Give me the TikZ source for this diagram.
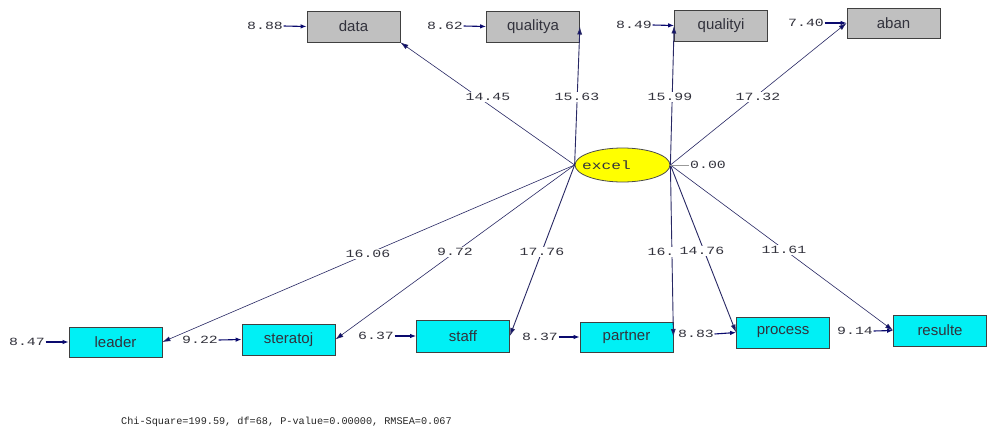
\documentclass[tikz,border=0pt]{standalone}
\usepackage{fontspec}
\setmainfont{Liberation Sans}
\newfontfamily\numfont[FakeStretch=1.35]{Liberation Mono}
\newfontfamily\fitfont{Liberation Mono}
\usetikzlibrary{arrows.meta,shapes.geometric}
\definecolor{boxgray}{RGB}{192,192,192}
\definecolor{boxcyan}{RGB}{0,240,245}
\definecolor{latyellow}{RGB}{255,255,0}
\definecolor{pathnavy}{RGB}{40,40,100}
\definecolor{tipnavy}{RGB}{10,10,110}
\definecolor{inktext}{RGB}{50,50,60}
\tikzset{
  obsbox/.style={draw=black!75, line width=0.8pt, minimum height=31pt, minimum width=93pt,
    inner sep=0pt, text=inktext, font=\fontsize{15}{17}\selectfont},
  topbox/.style={obsbox, fill=boxgray},
  botbox/.style={obsbox, fill=boxcyan},
  latent/.style={ellipse, draw=black!70, line width=0.8pt, fill=latyellow, minimum width=95pt,
    minimum height=34pt, inner sep=0pt, font=\numfont\fontsize{12}{14}\selectfont, text=inktext},
  numlab/.style={font=\numfont\fontsize{11}{13}\selectfont, text=inktext, inner sep=1pt},
  pathlab/.style={numlab, fill=white},
  errlab/.style={numlab, inner sep=0.5pt},
  path/.style={draw=pathnavy, line width=0.6pt, arrows={-{Latex[length=8pt,width=5pt,fill=tipnavy]}}},
  bold path/.style={path, line width=0.9pt},
  errarrow/.style={draw=tipnavy, line width=1.1pt, -{Latex[length=6pt,width=4.5pt]}},
}
\begin{document}
\begin{tikzpicture}[x=1pt,y=-1pt]
\fill[white] (0,0) rectangle (987,434);
\useasboundingbox (0,0) rectangle (987,434);

% latent variable (name set toward the left of the ellipse)
\node[latent] (excel) at (622.5,165) {\makebox[0pt]{\hspace*{-32pt}excel}};

% indicators above
\node[topbox] (data)     at (353.5,26.5) {data};
\node[topbox] (qualitya) at (533,26.5)   {qualitya};
\node[topbox] (qualityi) at (721,25.5)   {qualityi};
\node[topbox, minimum height=30pt] (aban) at (893.5,23) {aban};

% indicators below
\node[botbox, minimum height=30pt] (leader)   at (115.5,342) {leader};
\node[botbox] (steratoj) at (288.5,339.5) {steratoj};
\node[botbox, minimum height=32pt] (staff) at (463,336) {staff};
\node[botbox, minimum height=30pt] (partner)  at (626.5,337) {partner};
\node[botbox] (process)  at (783,332.5) {process};
\node[botbox] (resulte)  at (940,330.5) {resulte};

% loadings
\draw[path] (excel.west) -- (data.south east);
\draw[bold path] (excel.west) -- (qualitya.east);
\draw[bold path] (excel.east) -- (qualityi.west);
\draw[path] (excel.east) -- (aban.west);
\draw[path] (excel.west) -- (leader.east);
\draw[path] (excel.west) -- (steratoj.east);
\draw[bold path] (excel.west) -- (staff.east);
\draw[bold path] (excel.east) -- (partner.east);
\draw[bold path] (excel.east) -- (process.west);
\draw[path] (excel.east) -- (resulte.west);

% loading values
\node[pathlab] (l1) at (488,97)  {14.45};
\node[pathlab] (l2) at (577,97)  {15.63};
\node[pathlab] (l3) at (670,97)  {15.99};
\node[pathlab] (l4) at (758,97)  {17.32};
\node[pathlab] (l5) at (368,254) {16.06};
\node[pathlab] (l6) at (455,252) {9.72};
\node[pathlab] (l7) at (542,252) {17.76};
\node[pathlab] (l8) at (661,252) {16.};
\node[pathlab] (l9) at (702,251) {14.76};
\node[pathlab] (l10) at (784,250) {11.61};

% latent variance
\node[numlab] (var) at (708,165) {0.00};
\draw[black!40, line width=0.6pt] (excel.east) -- (var.west);

% error variances
\node[errlab] (e1)  at (265,26)  {8.88};
\node[errlab] (e2)  at (445,26)  {8.62};
\node[errlab] (e3)  at (634,25)  {8.49};
\node[errlab] (e4)  at (806,23)  {7.40};
\node[errlab] (e5)  at (27,342)  {8.47};
\node[errlab] (e6)  at (200,340) {9.22};
\node[errlab] (e7)  at (376,336) {6.37};
\node[errlab] (e8)  at (540,337) {8.37};
\node[errlab] (e9)  at (696,334) {8.83};
\node[errlab] (e10) at (855,331) {9.14};
\draw[errarrow] (e1.east)  -- (data.west);
\draw[errarrow] (e2.east)  -- (qualitya.west);
\draw[errarrow] (e3.east)  -- (qualityi.west);
\draw[errarrow] (e4.east)  -- (aban.west);
\draw[errarrow] (e5.east)  -- (leader.west);
\draw[errarrow] (e6.east)  -- (steratoj.west);
\draw[errarrow] (e7.east)  -- (staff.west);
\draw[errarrow] (e8.east)  -- (partner.west);
\draw[errarrow] (e9.east)  -- (process.west);
\draw[errarrow] (e10.east) -- (resulte.west);

% fit statistics
\node[anchor=west, inner sep=0pt, font=\fitfont\fontsize{10.2}{12}\selectfont, text=black!85] (fit) at (121,422)
  {Chi-Square=199.59, df=68, P-value=0.00000, RMSEA=0.067};
\end{tikzpicture}
\end{document}
